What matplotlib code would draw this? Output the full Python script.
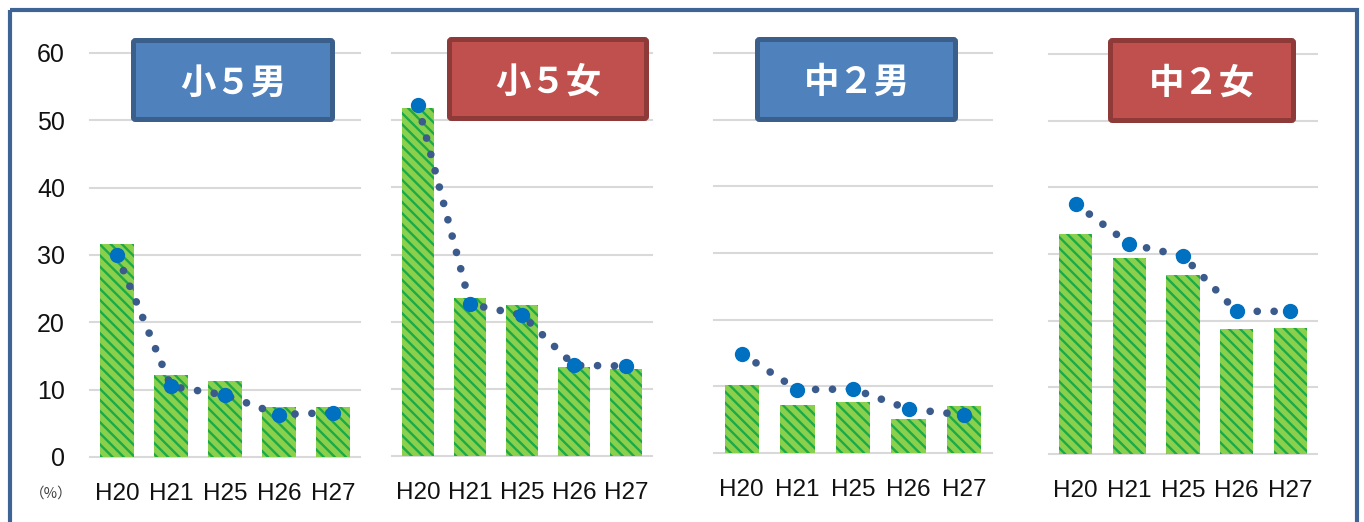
import matplotlib
matplotlib.use("Agg")
import matplotlib.pyplot as plt
from matplotlib.patches import Rectangle, FancyBboxPatch

# data
years = ["H20", "H21", "H25", "H26", "H27"]
titles = ["小５男", "小５女", "中２男", "中２女"]
bars_boys5 = [31.6, 12.2, 11.3, 7.4, 7.4]
bars_girls5 = [51.8, 23.5, 22.5, 13.2, 12.9]
bars_boys2 = [10.2, 7.2, 7.7, 5.1, 7.1]
bars_girls2 = [33.0, 29.4, 26.8, 18.7, 18.9]
dots_boys5 = [30.0, 10.5, 9.2, 6.3, 6.6]
dots_girls5 = [52.2, 22.6, 21.0, 13.5, 13.4]
dots_boys2 = [14.9, 9.5, 9.6, 6.6, 5.7]
dots_girls2 = [37.5, 31.5, 29.7, 21.4, 21.4]
y_ticks = [0, 10, 20, 30, 40, 50, 60]

W, H = 1364, 522


def main():
    plt.rcParams['hatch.linewidth'] = 1.7
    fig = plt.figure(figsize=(W / 100, H / 100), dpi=100)

    bars = [bars_boys5, bars_girls5, bars_boys2, bars_girls2]
    dots = [dots_boys5, dots_girls5, dots_boys2, dots_girls2]
    # panel extents in pixels: left, right, top(60), bottom(0)
    panels = [(90, 360, 53, 457), (392, 652, 53, 456),
              (714, 992, 53, 453), (1049, 1317, 54, 454)]
    boxes = [(131, 335, 38, 122), (447, 649, 37, 121),
             (755, 958, 37, 122), (1108, 1296, 38, 123)]
    box_fill = ['#4F81BD', '#C0504D', '#4F81BD', '#C0504D']
    box_edge = ['#3A5F8B', '#8E3A38', '#3A5F8B', '#8E3A38']

    x = list(range(len(years)))
    for i, (l, r, t, b) in enumerate(panels):
        ax = fig.add_axes([l / W, (H - b) / H, (r - l) / W, (b - t) / H])
        ax.bar(x, bars[i], width=0.62, color='#8BD04C', edgecolor='#1BAA48',
               linewidth=0, hatch='\\\\\\', zorder=2)
        ax.plot(x, dots[i], color='#3B5B8C', lw=5.5, linestyle=(0, (0.01, 2.2)),
                dash_capstyle='round', clip_on=False, zorder=3)
        ax.plot(x, dots[i], 'o', color='#0070C0', ms=10, clip_on=False,
                zorder=4)
        ax.set_xlim(-0.5, len(years) - 0.5)
        ax.set_ylim(0, 60)
        ax.set_yticks(y_ticks)
        ax.set_xticks(x)
        ax.set_xticklabels(years, fontfamily='Liberation Sans')
        ax.grid(axis='y', color='#D9D9D9', lw=1.5)
        for gl in ax.get_ygridlines():
            gl.set_clip_on(False)
        ax.set_axisbelow(True)
        for s in ax.spines.values():
            s.set_visible(False)
        ax.tick_params(axis='x', length=0, pad=18.5, labelsize=17.5,
                       labelcolor='#111111')
        if i == 0:
            ax.tick_params(axis='y', length=0, pad=18, labelsize=18,
                           labelcolor='#111111')
            for lab in ax.get_yticklabels():
                lab.set_fontfamily('Liberation Sans')
        else:
            ax.tick_params(axis='y', length=0, labelleft=False)

    # overlay in pixel coordinates for boxes, border and unit label
    ov = fig.add_axes([0, 0, 1, 1], zorder=10)
    ov.set_xlim(0, W)
    ov.set_ylim(H, 0)
    ov.axis('off')
    for i, (l, r, t, b) in enumerate(boxes):
        ov.add_patch(FancyBboxPatch((l + 2.5, t + 2.5), r - l - 5, b - t - 5,
                                    boxstyle='round,pad=0,rounding_size=2',
                                    facecolor=box_fill[i], edgecolor=box_edge[i],
                                    lw=3.6))
        ov.text((l + r) / 2, (t + b) / 2 + 3, titles[i], color='white',
                fontsize=25.5, fontweight='bold', ha='center', va='center',
                fontfamily=['Noto Sans CJK JP', 'DejaVu Sans'])
    ov.add_patch(Rectangle((10, 10), 1347, 540, fill=False,
                           edgecolor='#3D6494', lw=3, clip_on=False))
    ov.text(51, 494, "（%）", fontsize=10.5, color='#404040', ha='center',
            va='center', fontfamily=['Noto Sans CJK JP', 'DejaVu Sans'])

    fig.savefig('out.png', dpi=100)


if __name__ == "__main__":
    main()
